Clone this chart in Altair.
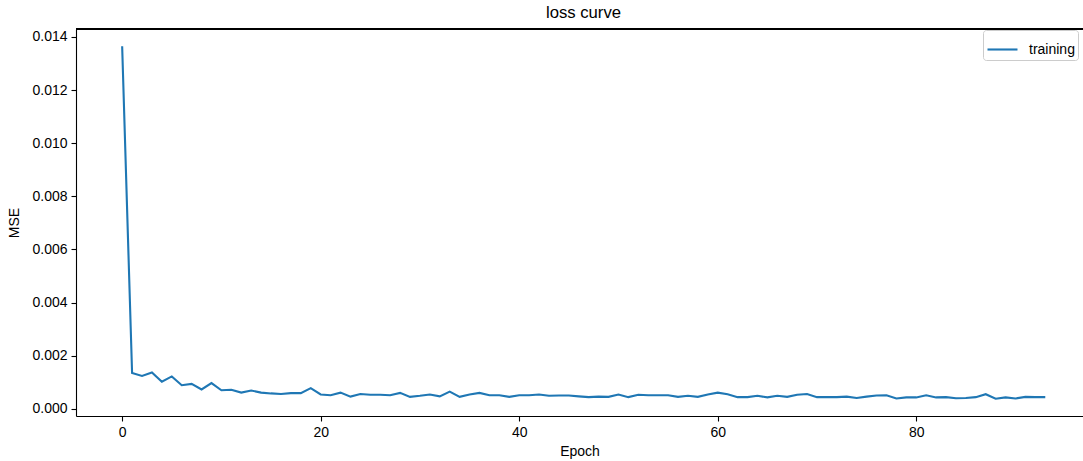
import altair as alt
import pandas as pd

epochs = list(range(94))
mse = [
    0.01365, 0.00135, 0.00124, 0.00137, 0.00102, 0.00122, 0.00089, 0.00094, 0.00073, 0.00097,
    0.00070, 0.00072, 0.00061, 0.00069, 0.00061, 0.00058, 0.00056, 0.00059, 0.00059, 0.00078,
    0.00054, 0.00051, 0.00061, 0.00046, 0.00056, 0.00053, 0.00053, 0.00051, 0.00060, 0.00045,
    0.00049, 0.00054, 0.00047, 0.00065, 0.00045, 0.00054, 0.00060, 0.00051, 0.00051, 0.00045,
    0.00051, 0.00051, 0.00054, 0.00049, 0.00050, 0.00050, 0.00047, 0.00044, 0.00046, 0.00045,
    0.00054, 0.00044, 0.00053, 0.00051, 0.00051, 0.00051, 0.00045, 0.00049, 0.00045, 0.00054,
    0.00061, 0.00055, 0.00044, 0.00044, 0.00049, 0.00043, 0.00049, 0.00045, 0.00053, 0.00056,
    0.00044, 0.00044, 0.00044, 0.00046, 0.00041, 0.00046, 0.00050, 0.00051, 0.00039, 0.00043,
    0.00043, 0.00051, 0.00043, 0.00044, 0.00040, 0.00041, 0.00044, 0.00055, 0.00038, 0.00043,
    0.00039, 0.00045, 0.00044, 0.00044,
]
series = ["training"] * len(epochs)
x_ticks = [0, 20, 40, 60, 80]
y_ticks = [0.000, 0.002, 0.004, 0.006, 0.008, 0.010, 0.012, 0.014]

df = pd.DataFrame({"Epoch": epochs, "MSE": mse, "series": series})

FONT = "Liberation Sans"
W, H = 1007, 387

line = alt.Chart(df).mark_line(strokeWidth=2.1, clip=True).encode(
    x=alt.X("Epoch:Q",
            scale=alt.Scale(domain=[-4.65, 96.8], nice=False, zero=False),
            axis=alt.Axis(values=x_ticks, title="Epoch", grid=False, tickSize=5,
                          labelPadding=4, titlePadding=5)),
    y=alt.Y("MSE:Q",
            scale=alt.Scale(domain=[-0.00027, 0.0143], nice=False, zero=False),
            axis=alt.Axis(values=y_ticks, format=".3f", title="MSE", grid=False,
                          tickSize=5, labelPadding=4, titlePadding=10)),
    color=alt.Color("series:N",
                    scale=alt.Scale(range=["#1f77b4"]),
                    legend=alt.Legend(title=None, orient="none", legendX=907, legendY=1,
                                      symbolType="stroke", symbolSize=900,
                                      symbolStrokeWidth=2.1, labelFontSize=14,
                                      labelFont=FONT, labelColor="#000000",
                                      strokeColor="#cccccc", fillColor="#ffffff",
                                      cornerRadius=3, padding=3, labelOffset=10)),
)

top_rule = alt.Chart(df).mark_rule(color="#000000", strokeWidth=1.1).encode(
    x=alt.value(0), x2=alt.value(W), y=alt.value(0)
)

chart = alt.layer(top_rule, line).properties(
    width=W, height=H,
    title=alt.TitleParams("loss curve", fontSize=16.7, fontWeight="normal", font=FONT,
                          anchor="middle", frame="group", offset=7, dx=4, color="#000000"),
    autosize=alt.AutoSizeParams(type="none"),
    padding={"left": 76, "top": 29, "right": 0, "bottom": 45},
).configure_view(stroke=None).configure_axis(
    labelFont=FONT, titleFont=FONT, labelFontSize=14, titleFontSize=14,
    titleFontWeight="normal", labelColor="#000000", titleColor="#000000",
    domainColor="#000000", tickColor="#000000", domainWidth=1.1, tickWidth=1.1,
)

chart.save("out.html", embed_options={"renderer": "svg", "actions": False})
